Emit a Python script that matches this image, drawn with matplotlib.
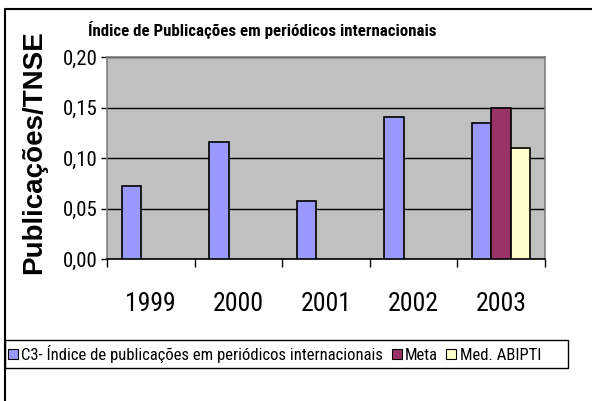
import numpy as np
import matplotlib
matplotlib.use("Agg")
import matplotlib.pyplot as plt
from matplotlib.patches import Rectangle
from matplotlib.lines import Line2D

years = ["1999", "2000", "2001", "2002", "2003"]
c3_values = [0.072, 0.116, 0.057, 0.141, 0.135]
meta_values = [np.nan, np.nan, np.nan, np.nan, 0.150]
abipti_values = [np.nan, np.nan, np.nan, np.nan, 0.110]
yticks = [0.00, 0.05, 0.10, 0.15, 0.20]
ytick_labels = ["0,00", "0,05", "0,10", "0,15", "0,20"]

series_names = ["C3- Índice de publicações em periódicos internacionais", "Meta", "Med. ABIPTI"]
series_colors = ["#9999FF", "#993366", "#FFFFCC"]

narrow = ["Roboto Condensed", "Liberation Sans Narrow", "Liberation Sans", "DejaVu Sans"]
wide = ["Liberation Sans", "DejaVu Sans"]

W, H = 592, 401
fig = plt.figure(figsize=(W / 100, H / 100), dpi=100)
fig.patch.set_facecolor("white")

# plot area in pixels: x 107..545, y 57..259
ax = fig.add_axes([107 / W, 1 - 259 / H, (545 - 107) / W, (259 - 57) / H])
ax.set_facecolor("#C0C0C0")

x = np.arange(len(years))
bw = 0.222
for k, (vals, col) in enumerate(zip([c3_values, meta_values, abipti_values], series_colors)):
    ax.bar(x + (k - 1) * bw, vals, bw, color=col, edgecolor="black", linewidth=1.2, zorder=3)

ax.set_xlim(-0.5, len(years) - 0.5)
ax.set_ylim(0, 0.2)
ax.set_yticks(yticks)
ax.set_yticklabels(ytick_labels, family=narrow, fontsize=15)
ax.yaxis.grid(True, color="black", linewidth=1.0, zorder=1)
ax.set_axisbelow(True)
ax.tick_params(axis="y", length=4.5, width=1, pad=2)

ax.set_xticks(x)
ax.set_xticklabels(years, family=narrow, fontsize=18.5)
ax.set_xticks(np.arange(-0.5, len(years)), minor=True)
ax.tick_params(axis="x", which="major", length=0, pad=24)
ax.tick_params(axis="x", which="minor", length=6, width=1, color="black")

for side in ["left", "right", "top"]:
    ax.spines[side].set_color("#808080")
    ax.spines[side].set_linewidth(1.2)
ax.spines["bottom"].set_color("black")
ax.spines["bottom"].set_linewidth(1.2)

ax.set_ylabel("Publicações/TNSE", family=wide, fontweight="bold", fontsize=20)
ax.yaxis.set_label_coords(47 / W, 1 - 152 / H, transform=fig.transFigure)

fig.text(88 / W, 1 - 30 / H, "Índice de Publicações em periódicos internacionais",
         family=narrow, fontweight="bold", fontsize=12.2, ha="left", va="center")

# outer frame (left and top edges)
fig.add_artist(Line2D([5 / W, 5 / W, 1], [0, 1 - 9 / H, 1 - 9 / H],
                      transform=fig.transFigure, color="black", linewidth=1.5))

# legend box
fig.add_artist(Rectangle((5 / W, 1 - 368 / H), (568 - 5) / W, (368 - 340) / H,
                         transform=fig.transFigure, facecolor="white",
                         edgecolor="black", linewidth=1.0))
handles = [Rectangle((0, 0), 1, 1, facecolor=c, edgecolor="black", linewidth=0.8)
           for c in series_colors]
fig.legend(handles, series_names, loc="center left", bbox_to_anchor=(8 / W, 1 - 354 / H),
           ncol=3, frameon=False, prop={"family": narrow, "size": 12},
           handlelength=0.6, handleheight=0.6, handletextpad=0.2, columnspacing=0.5,
           borderpad=0, borderaxespad=0)

fig.savefig("out.png", dpi=100)
